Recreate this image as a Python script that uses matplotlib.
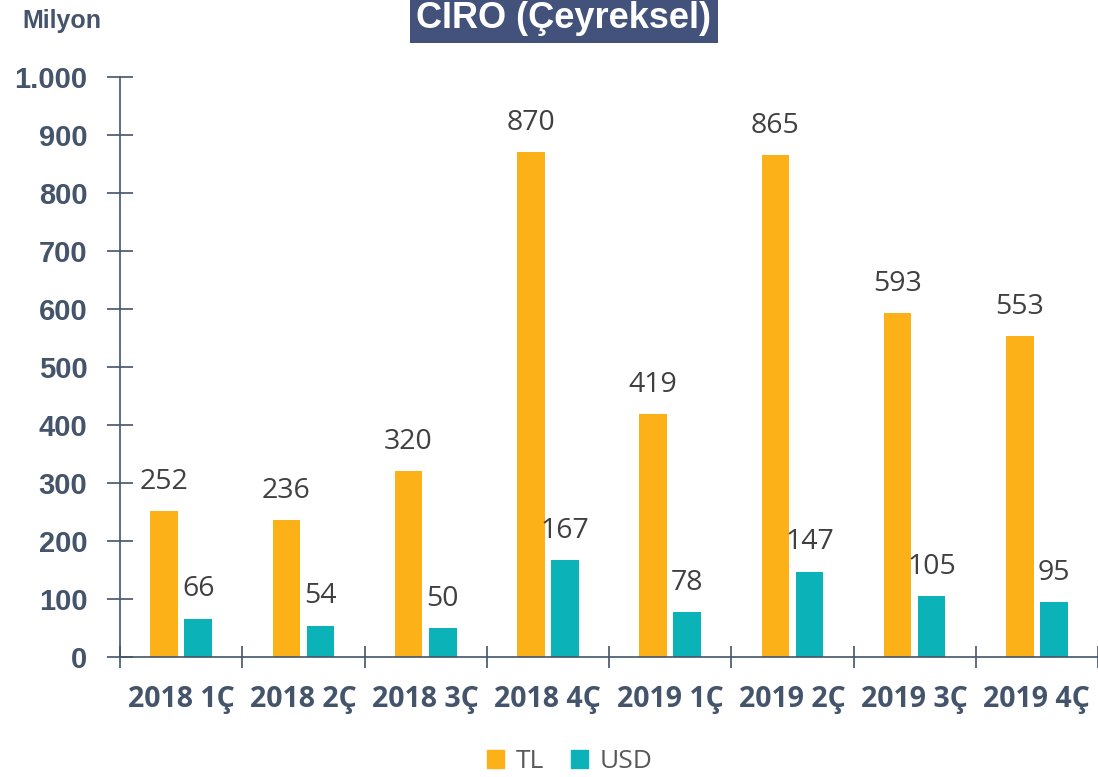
import numpy as np
import matplotlib.pyplot as plt
from matplotlib.patches import Patch

# veri
quarters = ["2018 1Ç", "2018 2Ç", "2018 3Ç", "2018 4Ç",
            "2019 1Ç", "2019 2Ç", "2019 3Ç", "2019 4Ç"]
tl = [252, 236, 320, 870, 419, 865, 593, 553]
usd = [66, 54, 50, 167, 78, 147, 105, 95]

c_tl = "#FBB117"
c_usd = "#0BB3B8"
c_axis = "#44546A"
c_lbl = "#404040"

narrow = ["Liberation Sans Narrow", "Liberation Sans", "DejaVu Sans"]

fig = plt.figure(figsize=(10.98, 7.77), dpi=100)
ax = fig.add_axes([0.1093, 0.1544, 0.8907, 0.7465])

x = np.arange(len(quarters))
w = 0.225
b1 = ax.bar(x - 0.14, tl, w, color=c_tl)
b2 = ax.bar(x + 0.14, usd, w, color=c_usd)

for bars, vals in ((b1, tl), (b2, usd)):
    for r, v in zip(bars, vals):
        ax.annotate(str(v), (r.get_x() + r.get_width() / 2, v),
                    xytext=(0, 11), textcoords="offset points",
                    ha="center", va="bottom", fontsize=20.5,
                    family="Open Sans", color=c_lbl)

ax.set_xlim(-0.5, 7.5)
ax.set_ylim(0, 1000)

# eksenler
for s in ["top", "right"]:
    ax.spines[s].set_visible(False)
for s in ["left", "bottom"]:
    ax.spines[s].set_color(c_axis)
    ax.spines[s].set_linewidth(1.2)

ax.set_yticks(np.arange(0, 1001, 100))
ax.set_yticklabels(["0", "100", "200", "300", "400", "500", "600", "700",
                    "800", "900", "1.000"])
ax.tick_params(axis="y", direction="inout", length=19, width=1.2,
               color=c_axis, pad=14, labelcolor=c_axis)
for t in ax.get_yticklabels():
    t.set_family(narrow)
    t.set_fontweight("bold")
    t.set_fontsize(21)

ax.set_xticks(x)
ax.set_xticklabels(quarters)
ax.set_xticks(np.arange(-0.5, 8, 1), minor=True)
ax.tick_params(axis="x", which="major", length=0, pad=20, labelcolor=c_axis)
ax.tick_params(axis="x", which="minor", direction="inout", length=16,
               width=1.2, color=c_axis)
for t in ax.get_xticklabels():
    t.set_family("Open Sans")
    t.set_fontweight("bold")
    t.set_fontsize(20.5)

# başlık
fig.text(564 / 1098, 1 - 19 / 777, "CIRO (Çeyreksel)", ha="center",
         va="center", fontsize=26, fontweight="bold", family=narrow,
         color="white",
         bbox=dict(boxstyle="square,pad=0.18", fc="#43527A", ec="none"))
fig.text(22 / 1098, 1 - 21 / 777, "Milyon", ha="left", va="center",
         fontsize=18, fontweight="bold", family=narrow, color=c_axis)

handles = [Patch(color=c_tl, label="TL"), Patch(color=c_usd, label="USD")]
leg = fig.legend(handles=handles, loc="center", bbox_to_anchor=(570 / 1098, 1 - 762 / 777),
                 ncol=2, frameon=False, handlelength=0.65, handleheight=0.65,
                 handletextpad=0.45, columnspacing=1.0,
                 prop={"family": "Open Sans", "size": 19})
for t in leg.get_texts():
    t.set_color("#595959")

fig.savefig("out.png", dpi=100)
